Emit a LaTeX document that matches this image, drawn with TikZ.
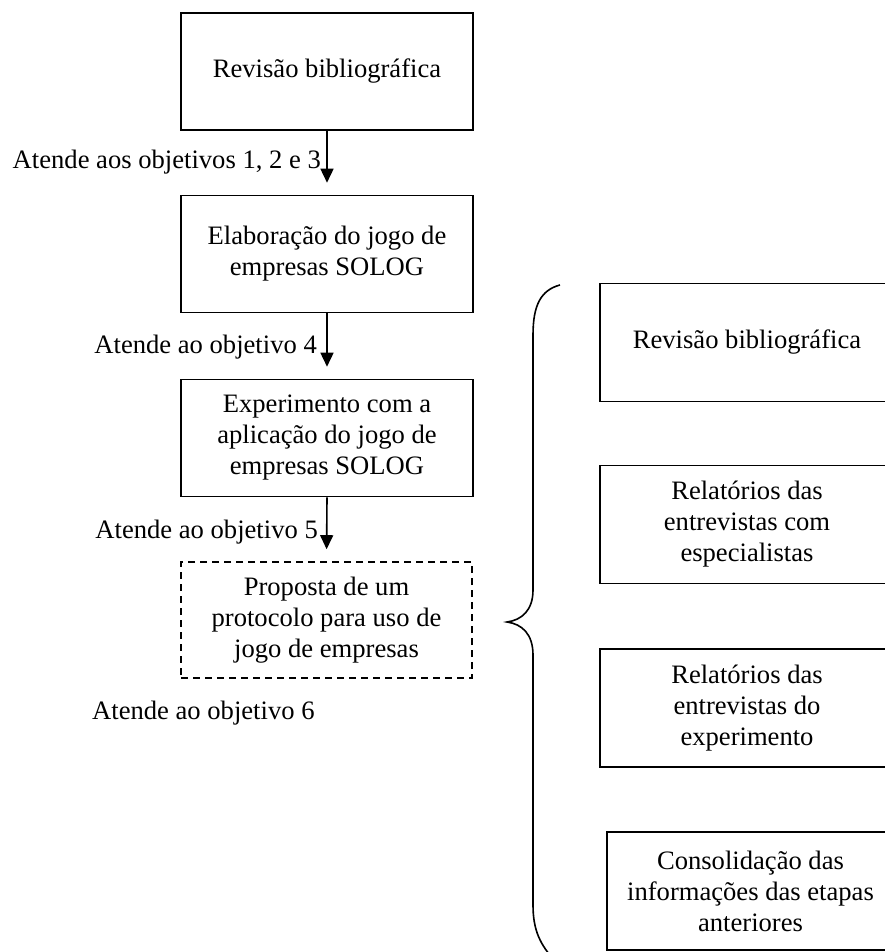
\documentclass[tikz,border=0pt]{standalone}
\usepackage{fontspec}
\setmainfont{Liberation Serif}
\usetikzlibrary{arrows.meta}
\newcommand{\boxfont}{\fontsize{26.6}{31}\selectfont}
\begin{document}
\begin{tikzpicture}[x=1pt,y=-1pt,
  stagebox/.style={draw, line width=1.6pt, minimum width=292pt, minimum height=117pt,
    align=center, inner sep=0pt, font=\boxfont},
  sourcebox/.style={stagebox, minimum width=294pt, minimum height=118pt},
  goal/.style={font=\boxfont, inner sep=0pt},
  flow/.style={line width=1.6pt, -{Triangle[length=14pt,width=13pt]}, shorten >=12pt}]
\useasboundingbox (0,0) rectangle (885,952);
\clip (0,0) rectangle (885,952);

% main sequence of stages
\node[stagebox] (rev) at (327,71.5) {Revisão bibliográfica};
\node[stagebox] (elab) at (327,254) {Elaboração do jogo de\\empresas SOLOG};
\node[stagebox] (exp) at (327,438) {Experimento com a\\aplicação do jogo de\\empresas SOLOG};
\node[stagebox, dashed, dash pattern=on 7pt off 5pt, minimum width=291pt, minimum height=116pt]
  (prop) at (326.5,620) {Proposta de um\\protocolo para uso de\\jogo de empresas};

\draw[flow] (rev.south) -- (elab.north);
\draw[flow] (elab.south) -- (exp.north);
\draw[flow] (exp.south) -- (prop.north);

% objectives met by each step
\node[goal, anchor=base east] (g1) at (321,168) {Atende aos objetivos 1, 2 e 3};
\node[goal, anchor=base east] (g2) at (317,353) {Atende ao objetivo 4};
\node[goal, anchor=base east] (g3) at (318,538) {Atende ao objetivo 5};
\node[goal, anchor=base west] (g4) at (92,719) {Atende ao objetivo 6};

% sources consolidated into the protocol
\node[sourcebox] (s1) at (747,342.5) {Revisão bibliográfica};
\node[sourcebox] (s2) at (747,524.5) {Relatórios das\\entrevistas com\\especialistas};
\node[sourcebox] (s3) at (747,708) {Relatórios das\\entrevistas do\\experimento};
\node[sourcebox, minimum width=287pt] (s4) at (750.5,891) {Consolidação das\\informações das etapas\\anteriores};

% curly brace gathering the sources
\draw[line width=1.6pt]
  (560,285) .. controls (541,290) and (533,305) .. (533,335)
  -- (533,590) .. controls (533,610) and (522,620) .. (507,622)
  .. controls (522,624) and (533,634) .. (533,655)
  -- (533,905) .. controls (533,930) and (540,945) .. (556,962);
\end{tikzpicture}
\end{document}
